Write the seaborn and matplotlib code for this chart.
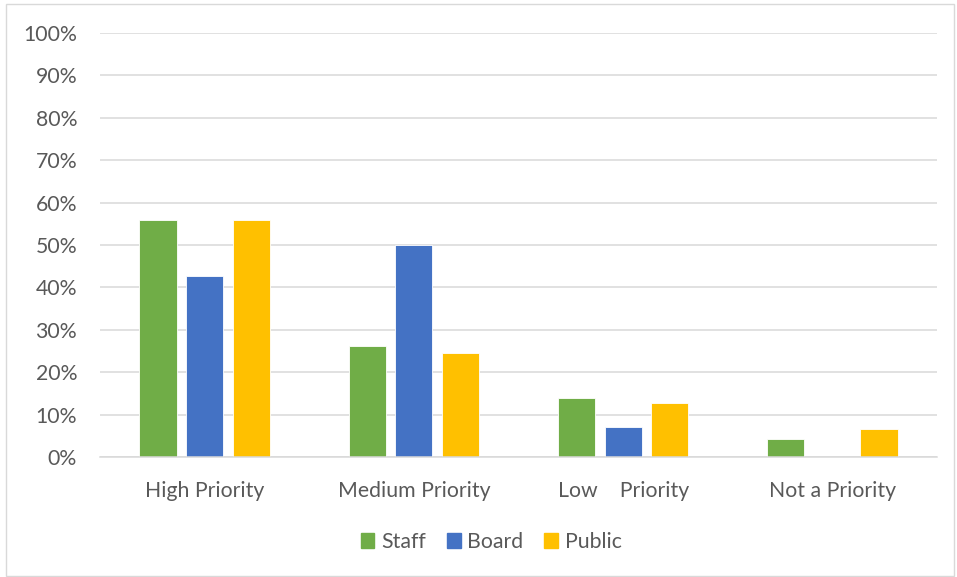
import matplotlib
matplotlib.use("Agg")
import matplotlib.pyplot as plt
import matplotlib.patches as mpatches
from matplotlib.ticker import PercentFormatter
import pandas as pd
import seaborn as sns

categories = ["High Priority", "Medium Priority", "Low    Priority", "Not a Priority"]
staff = [55.8, 26.2, 13.9, 4.2]
board = [42.8, 50.0, 7.0, 0.0]
public = [55.9, 24.6, 12.7, 6.7]
series = ["Staff", "Board", "Public"]
colors = ["#70AD47", "#4472C4", "#FFC000"]
y_ticks = list(range(0, 101, 10))

df = pd.DataFrame({
    "category": categories * 3,
    "group": [s for s in series for _ in categories],
    "value": staff + board + public,
})

sns.set_theme(style="white")
plt.rcParams["font.family"] = ["Lato", "DejaVu Sans"]

fig = plt.figure(figsize=(9.57, 5.77), dpi=100)
ax = fig.add_axes([100 / 957, 1 - 457 / 577, 837 / 957, 424 / 577])

sns.barplot(data=df, x="category", y="value", hue="group", hue_order=series,
            palette=colors, order=categories, width=0.667, gap=0.2,
            edgecolor="white", linewidth=0.6, saturation=1, ax=ax, legend=True)

ax.set_ylim(0, 100)
ax.set_xlim(-0.5, len(categories) - 0.5)
ax.set_yticks(y_ticks)
ax.yaxis.set_major_formatter(PercentFormatter(decimals=0))
ax.yaxis.grid(True, color="#D9D9D9", linewidth=1.1)
ax.set_axisbelow(True)
for side in ["top", "right", "left"]:
    ax.spines[side].set_visible(False)
ax.spines["bottom"].set_color("#D9D9D9")
ax.spines["bottom"].set_linewidth(1.1)
ax.set_xlabel("")
ax.set_ylabel("")
ax.tick_params(axis="y", length=0, pad=16.5, labelsize=15.3, labelcolor="#595959")
ax.tick_params(axis="x", length=0, pad=17, labelsize=15.3, labelcolor="#595959")

handles = [mpatches.Patch(color=c, label=s) for c, s in zip(colors, series)]
ax.get_legend().remove()
fig.legend(handles=handles, loc="center", bbox_to_anchor=(491 / 957, 1 - 542 / 577),
           ncol=3, frameon=False, fontsize=15.3, labelcolor="#595959",
           handlelength=0.65, handleheight=0.65, handletextpad=0.3, columnspacing=1.0)

# chart outline
fig.patches.append(mpatches.Rectangle((6 / 957, 0.002), 948 / 957, 1 - 4 / 577 - 0.002,
                                      transform=fig.transFigure, fill=False,
                                      edgecolor="#D9D9D9", linewidth=1))

fig.savefig("out.png", dpi=100)
